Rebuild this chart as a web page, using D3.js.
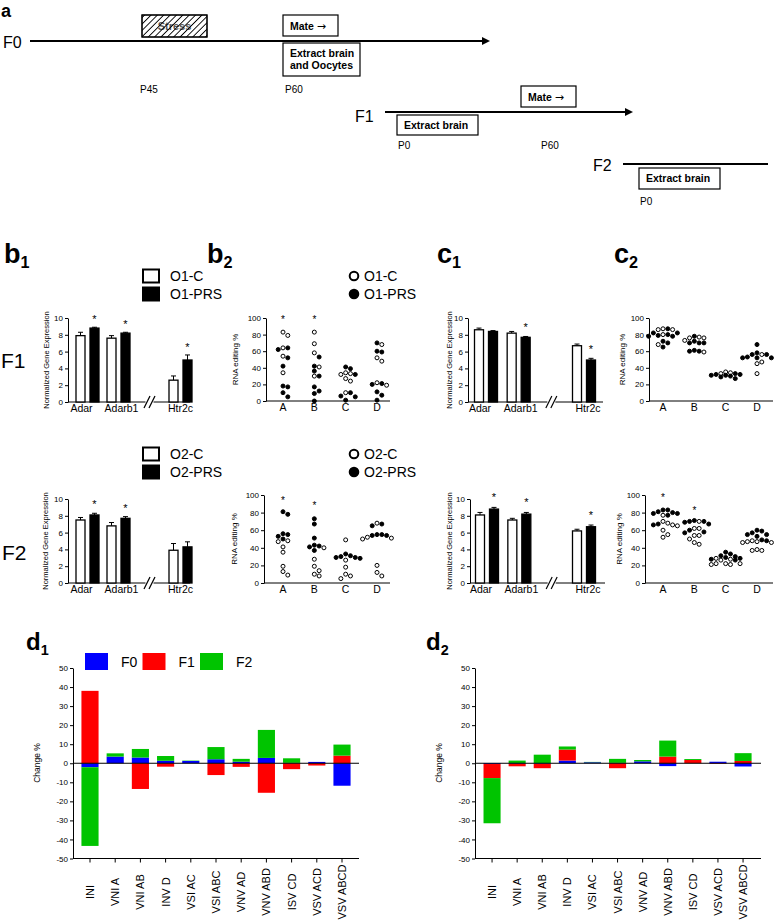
<!DOCTYPE html>
<html>
<head>
<meta charset="utf-8">
<script src="https://cdn.jsdelivr.net/npm/d3@7/dist/d3.min.js"></script>
<style>
  body { margin: 0; background: #fff; }
  svg { display: block; font-family: "Liberation Sans", Arial, sans-serif; }
</style>
</head>
<body>
<svg id="fig" width="778" height="921"></svg>
<script>
// ---------- data ----------
const genes = ["Adar", "Adarb1", "Htr2c"];
const barTicks = [0, 2, 4, 6, 8, 10];

const b1F1Ctrl = [7.9, 7.6, 2.6];
const b1F1CtrlErr = [0.4, 0.3, 0.5];
const b1F1Prs = [8.8, 8.2, 5.0];
const b1F1PrsErr = [0.1, 0.1, 0.6];
const b1F1Sig = [true, true, true];

const b1F2Ctrl = [7.5, 6.8, 3.9];
const b1F2CtrlErr = [0.3, 0.4, 0.8];
const b1F2Prs = [8.1, 7.7, 4.3];
const b1F2PrsErr = [0.2, 0.2, 0.6];
const b1F2Sig = [true, true, false];

const c1F1Ctrl = [8.6, 8.2, 6.7];
const c1F1CtrlErr = [0.2, 0.2, 0.2];
const c1F1Prs = [8.4, 7.7, 5.0];
const c1F1PrsErr = [0.1, 0.1, 0.2];
const c1F1Sig = [false, true, true];

const c1F2Ctrl = [8.1, 7.5, 6.2];
const c1F2CtrlErr = [0.3, 0.2, 0.2];
const c1F2Prs = [8.8, 8.2, 6.7];
const c1F2PrsErr = [0.2, 0.2, 0.2];
const c1F2Sig = [true, true, true];

const sites = ["A", "B", "C", "D"];
const dotTicks = [0, 20, 40, 60, 80, 100];

const b2F1Open = [[83, 79, 64, 54, 34], [83, 69, 58, 41, 30], [34, 33, 32, 27, 24, 10], [68, 52, 48, 22, 19]];
const b2F1Filled = [[64, 62, 52, 42, 18, 17, 10, 5], [53, 42, 36, 30, 17, 12, 9, 0], [41, 39, 32, 10, 6, 5, 1], [70, 60, 59, 21, 20, 11, 7, 1]];
const b2F1Star = [100, 100, null, null];

const b2F2Open = [[48, 47, 41, 35, 19, 13, 9], [40, 27, 19, 14, 10, 8], [49, 26, 18, 10, 8, 5], [68, 52, 50, 51, 20, 12, 8]];
const b2F2Filled = [[81, 78, 56, 53, 55, 50], [73, 67, 51, 43, 42, 41, 37], [33, 31, 30, 29, 29, 28], [67, 65, 55, 54, 54, 55]];
const b2F2Star = [96, 90, null, null];

const c2F1Open = [[87, 86, 86, 80, 68], [77, 76, 76, 73, 59], [35, 34, 33], [56, 47, 45, 33]];
const c2F1Filled = [[87, 82, 82, 80, 79, 78, 78, 72, 70, 65], [78, 72, 70, 70, 70, 61, 60, 60], [33, 32, 32, 31, 31, 30, 29, 27], [68, 58, 56, 56, 53, 52, 52, 52]];
const c2F1Star = [null, null, null, null];

const c2F2Open = [[77, 70, 68, 66, 65, 60, 55, 52], [70, 62, 62, 54, 54, 50, 46, 44], [28, 27, 26, 22, 22, 22, 21, 21], [48, 47, 47, 46, 46, 38, 37, 37]];
const c2F2Filled = [[83, 83, 81, 80, 79, 79, 77, 67, 66], [71, 70, 70, 69, 67, 60, 58, 57], [35, 33, 31, 30, 29, 28, 27, 26], [60, 59, 57, 55, 55, 53, 49, 48]];
const c2F2Star = [99, 84, null, null];

const dCats = ["INI", "VNI A", "VNI AB", "INV D", "VSI AC", "VSI ABC", "VNV AD", "VNV ABD", "ISV CD", "VSV ACD", "VSV ABCD"];
const gens = ["F0", "F1", "F2"];
const genColor = { F0: "#0000ff", F1: "#ff0000", F2: "#00c400" };
const changeTicks = [-50, -40, -30, -20, -10, 0, 10, 20, 30, 40, 50];

const d1F0 = [-2.1, 3.5, 3.0, 1.3, 1.2, 2.1, 0.8, 2.8, 0.2, 0.7, -11.8];
const d1F1 = [38, 0, -13.5, -1.8, 0, -6.2, -1.9, -15.5, -3.1, -1.2, 4.0];
const d1F2 = [-41.3, 1.7, 4.5, 2.5, 0.2, 6.4, 1.5, 14.7, 2.4, 0, 5.8];

const d2F0 = [-0.4, -0.3, -0.3, 1.4, 0.5, 0.2, 1.0, -1.5, 0, 0.8, -1.7];
const d2F1 = [-7.4, -1.3, -2.3, 5.8, 0, -2.6, 0, 3.5, 1.7, -0.3, 1.2];
const d2F2 = [-23.7, 1.4, 4.5, 1.6, 0.2, 2.1, 0.7, 8.4, 0.5, 0, 4.1];

// ---------- drawing ----------
const svg = d3.select("#fig");
const defs = svg.append("defs");

function styleAxis(a) {
  a.attr("font-size", 8).attr("font-family", null);
  a.selectAll("text").attr("fill", "#000");
  a.selectAll("line,path").attr("stroke", "#000");
}

function panelTitle(x, y, letter, sub, size) {
  const t = svg.append("text").attr("x", x).attr("y", y)
    .attr("font-weight", "bold").attr("font-size", size);
  t.append("tspan").text(letter);
  if (sub) t.append("tspan").attr("font-size", size * 0.6).attr("dy", size * 0.2).text(sub);
}

// panel a: timeline
(function drawTimeline() {
  const g = svg.append("g");
  const pat = defs.append("pattern").attr("id", "hatch")
    .attr("patternUnits", "userSpaceOnUse").attr("width", 4.5).attr("height", 4.5)
    .attr("patternTransform", "rotate(45)");
  pat.append("line").attr("x1", 0).attr("y1", 0).attr("x2", 0).attr("y2", 4.5)
    .attr("stroke", "#000").attr("stroke-width", 1.8);

  g.append("text").attr("x", 1).attr("y", 16.5).attr("font-size", 18).attr("font-weight", "bold").text("a");

  const hline = (x1, x2, y, arrow) => {
    g.append("line").attr("x1", x1).attr("x2", arrow ? x2 - 6 : x2).attr("y1", y).attr("y2", y)
      .attr("stroke", "#000").attr("stroke-width", 2);
    if (arrow) g.append("path").attr("d", `M${x2 - 8},${y - 4}L${x2},${y}L${x2 - 8},${y + 4}Z`).attr("fill", "#000");
  };
  const box = (x, y, w, h, lines) => {
    g.append("rect").attr("x", x).attr("y", y).attr("width", w).attr("height", h)
      .attr("fill", "#fff").attr("stroke", "#000").attr("stroke-width", 1.2);
    lines.forEach((s, i) => g.append("text").attr("x", x + 7).attr("y", y + 14 + i * 12)
      .attr("font-size", 10.5).attr("font-weight", "bold").text(s));
  };
  const mateBox = (x, y) => {
    g.append("rect").attr("x", x).attr("y", y).attr("width", 55).attr("height", 21)
      .attr("fill", "#fff").attr("stroke", "#000").attr("stroke-width", 1.2);
    const t = g.append("text").attr("x", x + 7).attr("y", y + 14.5).attr("font-size", 10.5).attr("font-weight", "bold");
    t.append("tspan").text("Mate ");
    t.append("tspan").attr("font-family", "DejaVu Sans").attr("font-weight", "normal").attr("font-size", 11).text("\u2192");
  };
  const small = (x, y, s) => g.append("text").attr("x", x).attr("y", y).attr("font-size", 10).text(s);

  g.append("text").attr("x", 3).attr("y", 48).attr("font-size", 16).text("F0");
  hline(30, 490, 41, true);
  g.append("rect").attr("x", 142).attr("y", 15).attr("width", 65).attr("height", 22)
    .attr("fill", "#fff").attr("stroke", "#000");
  g.append("text").attr("x", 174.5).attr("y", 30).attr("text-anchor", "middle")
    .attr("font-size", 11).attr("font-weight", "bold").attr("fill", "#555").text("Stress");
  g.append("rect").attr("x", 142).attr("y", 15).attr("width", 65).attr("height", 22)
    .attr("fill", "url(#hatch)").attr("stroke", "#000").attr("stroke-width", 1.2);
  mateBox(283, 15);
  box(283, 43, 77, 33, ["Extract brain", "and Oocytes"]);
  small(140, 93, "P45");
  small(285, 93, "P60");

  g.append("text").attr("x", 355).attr("y", 122).attr("font-size", 16).text("F1");
  hline(385, 633, 112, true);
  mateBox(521, 86);
  box(397, 115, 81, 20, ["Extract brain"]);
  small(398, 149, "P0");
  small(541, 149, "P60");

  g.append("text").attr("x", 593).attr("y", 171).attr("font-size", 16).text("F2");
  hline(623, 768, 164, false);
  box(639, 168, 81, 21, ["Extract brain"]);
  small(640, 205, "P0");
})();

function barPanel(o) {
  const g = svg.append("g");
  const y = d3.scaleLinear().domain([0, 10]).range([o.yBot, o.yTop]);
  const x = d3.scalePoint().domain([genes[0], genes[1], "//", genes[2]]).range([o.gx0, o.gx1]);
  const bw = 9, gap = 2.5;
  g.append("g").attr("transform", `translate(${o.ax},0)`)
    .call(d3.axisLeft(y).tickValues(barTicks).tickSize(3).tickPadding(2).tickSizeOuter(0))
    .call(styleAxis);
  const y0 = y(0), bx = x("//");
  g.append("line").attr("x1", o.ax).attr("x2", bx - 4).attr("y1", y0).attr("y2", y0).attr("stroke", "#000");
  g.append("line").attr("x1", bx + 4).attr("x2", o.xEnd).attr("y1", y0).attr("y2", y0).attr("stroke", "#000");
  g.selectAll(".brk").data([-2.5, 2.5]).join("line").attr("class", "brk")
    .attr("x1", d => bx + d - 3).attr("y1", y0 + 6).attr("x2", d => bx + d + 3).attr("y2", y0 - 6)
    .attr("stroke", "#000").attr("stroke-width", 1.2);

  const rows = genes.flatMap((name, i) => [
    { name, ctrl: true, v: o.ctrl[i], e: o.ctrlErr[i], sig: false },
    { name, ctrl: false, v: o.prs[i], e: o.prsErr[i], sig: o.sig[i] }
  ]);
  const left = d => d.ctrl ? x(d.name) - gap - bw : x(d.name) + gap;
  g.selectAll(".err").data(rows).join("path").attr("class", "err")
    .attr("d", d => {
      const cx = left(d) + bw / 2, t = y(d.v + d.e);
      return `M${cx},${y(d.v)}V${t}M${cx - 2.5},${t}H${cx + 2.5}`;
    })
    .attr("stroke", "#000").attr("fill", "none");
  g.selectAll(".bar").data(rows).join("rect").attr("class", "bar")
    .attr("x", left).attr("width", bw)
    .attr("y", d => y(d.v)).attr("height", d => y0 - y(d.v))
    .attr("fill", d => d.ctrl ? "#fff" : "#000").attr("stroke", "#000").attr("stroke-width", 1.3);
  g.selectAll(".star").data(rows.filter(d => d.sig)).join("text").attr("class", "star")
    .attr("x", d => left(d) + bw / 2).attr("y", d => y(d.v + d.e) - o.starGap)
    .attr("text-anchor", "middle").attr("font-size", 11).text("*");
  g.selectAll(".gl").data(genes).join("text").attr("class", "gl")
    .attr("x", (d, i) => x(d) + o.labelDx[i]).attr("y", o.labelY).attr("text-anchor", "middle")
    .attr("font-size", 10.5).text(d => d);
  g.append("text").attr("transform", `translate(${o.ylabX},${(o.yTop + o.yBot) / 2}) rotate(-90)`)
    .attr("text-anchor", "middle").attr("font-size", 7.5).text("Normalized Gene Expression");
}

function swarm(pts, y, step, maxK) {
  const placed = [];
  pts.sort((a, b) => b.v - a.v).forEach(p => {
    p.py = y(p.v);
    let best = 0, bestD = -1;
    outer:
    for (let k = 0; k <= maxK; k++) {
      for (const sgn of (k ? [1, -1] : [1])) {
        const dx = sgn * k * step;
        const dmin = placed.length ? d3.min(placed, q => Math.hypot(q.dx - dx, q.py - p.py)) : Infinity;
        if (dmin >= step) { best = dx; break outer; }
        if (dmin > bestD) { bestD = dmin; best = dx; }
      }
    }
    p.dx = best;
    placed.push(p);
  });
  return pts;
}

function dotPanel(o) {
  const g = svg.append("g");
  const y = d3.scaleLinear().domain([0, 100]).range([o.yBot, o.yTop]);
  const x = d3.scalePoint().domain(sites).range([o.cx0, o.cx1]);
  g.append("g").attr("transform", `translate(${o.ax},0)`)
    .call(d3.axisLeft(y).tickValues(dotTicks).tickSize(3).tickPadding(2).tickSizeOuter(0))
    .call(styleAxis);
  g.append("line").attr("x1", o.ax).attr("x2", o.xEnd).attr("y1", y(0)).attr("y2", y(0)).attr("stroke", "#000");
  sites.forEach((s, i) => {
    const pts = swarm(
      o.open[i].map(v => ({ v, filled: false })).concat(o.filled[i].map(v => ({ v, filled: true }))),
      y, 4.8, 3);
    g.append("g").selectAll("circle").data(pts).join("circle")
      .attr("cx", d => x(s) + d.dx).attr("cy", d => d.py).attr("r", 2)
      .attr("fill", d => d.filled ? "#000" : "#fff").attr("stroke", "#000").attr("stroke-width", 1);
    if (o.star[i] != null) {
      g.append("text").attr("x", x(s)).attr("y", y(o.star[i]) + 5)
        .attr("text-anchor", "middle").attr("font-size", 10).text("*");
    }
  });
  g.selectAll(".sl").data(sites).join("text").attr("class", "sl")
    .attr("x", d => x(d)).attr("y", o.labelY).attr("text-anchor", "middle")
    .attr("font-size", 10.5).text(d => d);
  g.append("text").attr("transform", `translate(${o.ylabX},${(o.yTop + o.yBot) / 2}) rotate(-90)`)
    .attr("text-anchor", "middle").attr("font-size", 8).text("RNA editing %");
}

function stackPanel(o) {
  const g = svg.append("g");
  const y = d3.scaleLinear().domain([-50, 50]).range([858.5, 668]);
  const x = d3.scaleBand().domain(dCats).range([o.b0, o.b1]).paddingInner(0.32).paddingOuter(0.16);
  const rows = dCats.map((cat, i) => ({ cat, F0: o.f0[i], F1: o.f1[i], F2: o.f2[i] }));
  const series = d3.stack().keys(gens).offset(d3.stackOffsetDiverging)(rows);
  g.selectAll(".ser").data(series).join("g").attr("class", "ser")
    .attr("fill", d => genColor[d.key])
    .selectAll("rect").data(d => d).join("rect")
    .attr("x", d => x(d.data.cat)).attr("width", x.bandwidth())
    .attr("y", d => y(Math.max(d[0], d[1]))).attr("height", d => Math.abs(y(d[0]) - y(d[1])));
  g.append("g").attr("transform", `translate(${o.ax},0)`)
    .call(d3.axisLeft(y).tickValues(changeTicks).tickFormat(d => String(d)).tickSize(3).tickPadding(2).tickSizeOuter(0))
    .call(styleAxis);
  g.append("line").attr("x1", o.ax).attr("x2", o.xEnd).attr("y1", y(0)).attr("y2", y(0)).attr("stroke", "#000");
  const xb = g.append("g").attr("transform", `translate(0,${y(-50)})`)
    .call(d3.axisBottom(x).tickSize(4).tickFormat(""))
    .call(styleAxis);
  xb.select(".domain").remove();
  g.append("line").attr("x1", o.ax).attr("x2", o.xEnd).attr("y1", y(-50)).attr("y2", y(-50)).attr("stroke", "#000");
  g.selectAll(".cl").data(dCats).join("text").attr("class", "cl")
    .attr("transform", d => `translate(${x(d) + x.bandwidth() / 2},892) rotate(-90)`)
    .attr("text-anchor", "middle").attr("dominant-baseline", "central")
    .attr("font-size", 11).text(d => d);
  g.append("text").attr("transform", `translate(${o.ylabX},763) rotate(-90)`)
    .attr("text-anchor", "middle").attr("font-size", 8.5).text("Change %");
}

// titles and row labels
panelTitle(4, 263, "b", "1", 27);
panelTitle(207, 263, "b", "2", 27);
panelTitle(437, 263, "c", "1", 27);
panelTitle(614, 263, "c", "2", 27);
panelTitle(26, 650, "d", "1", 24);
panelTitle(426, 650, "d", "2", 24);
svg.append("text").attr("x", 1).attr("y", 368).attr("font-size", 21).text("F1");
svg.append("text").attr("x", 2).attr("y", 560).attr("font-size", 21).text("F2");

// legends (bar and dot)
function barLegend(yc, names) {
  names.forEach((n, i) => {
    const cy = yc + i * 18;
    svg.append("rect").attr("x", 143).attr("y", cy - 6.5).attr("width", 16).attr("height", 13)
      .attr("fill", i ? "#000" : "#fff").attr("stroke", "#000").attr("stroke-width", 2);
    svg.append("text").attr("x", 170).attr("y", cy).attr("dominant-baseline", "central")
      .attr("font-size", 14).text(n);
  });
}
function dotLegend(yc, names) {
  names.forEach((n, i) => {
    const cy = yc + i * 18;
    svg.append("circle").attr("cx", 354).attr("cy", cy).attr("r", 4.3)
      .attr("fill", i ? "#000" : "#fff").attr("stroke", "#000").attr("stroke-width", 2);
    svg.append("text").attr("x", 364).attr("y", cy).attr("dominant-baseline", "central")
      .attr("font-size", 14).text(n);
  });
}
barLegend(276, ["O1-C", "O1-PRS"]);
dotLegend(276, ["O1-C", "O1-PRS"]);
barLegend(454, ["O2-C", "O2-PRS"]);
dotLegend(454, ["O2-C", "O2-PRS"]);

// b1 / c1 bar charts
barPanel({ ax: 68, xEnd: 190, gx0: 87.5, gx1: 180.5, yTop: 318, yBot: 402, labelY: 412, ylabX: 49, starGap: 4,
  labelDx: [-6, 3, 0],
  ctrl: b1F1Ctrl, ctrlErr: b1F1CtrlErr, prs: b1F1Prs, prsErr: b1F1PrsErr, sig: b1F1Sig });
barPanel({ ax: 68, xEnd: 190, gx0: 87.5, gx1: 180.5, yTop: 499, yBot: 583, labelY: 593, ylabX: 48, starGap: 5,
  labelDx: [-6, 3, 0],
  ctrl: b1F2Ctrl, ctrlErr: b1F2CtrlErr, prs: b1F2Prs, prsErr: b1F2PrsErr, sig: b1F2Sig });
barPanel({ ax: 468, xEnd: 603, gx0: 486, gx1: 584, yTop: 318, yBot: 402, labelY: 412, ylabX: 452, starGap: 5,
  labelDx: [-6, 2, 4],
  ctrl: c1F1Ctrl, ctrlErr: c1F1CtrlErr, prs: c1F1Prs, prsErr: c1F1PrsErr, sig: c1F1Sig });
barPanel({ ax: 470, xEnd: 605, gx0: 487, gx1: 584, yTop: 499, yBot: 583, labelY: 593, ylabX: 452, starGap: 6,
  labelDx: [-6, 2, 4],
  ctrl: c1F2Ctrl, ctrlErr: c1F2CtrlErr, prs: c1F2Prs, prsErr: c1F2PrsErr, sig: c1F2Sig });

// b2 / c2 dot plots
dotPanel({ ax: 266, xEnd: 390, cx0: 283, cx1: 377, yTop: 318, yBot: 401, labelY: 411, ylabX: 238,
  open: b2F1Open, filled: b2F1Filled, star: b2F1Star });
dotPanel({ ax: 264, xEnd: 390, cx0: 283, cx1: 377, yTop: 495, yBot: 583, labelY: 593, ylabX: 237,
  open: b2F2Open, filled: b2F2Filled, star: b2F2Star });
dotPanel({ ax: 649, xEnd: 773, cx0: 663, cx1: 757, yTop: 318, yBot: 401, labelY: 411, ylabX: 625,
  open: c2F1Open, filled: c2F1Filled, star: c2F1Star });
dotPanel({ ax: 645, xEnd: 773, cx0: 663, cx1: 757, yTop: 495, yBot: 583, labelY: 593, ylabX: 622,
  open: c2F2Open, filled: c2F2Filled, star: c2F2Star });

// d1 legend
gens.forEach((k, i) => {
  const lx = 85 + i * 57.5;
  svg.append("rect").attr("x", lx).attr("y", 653).attr("width", 23).attr("height", 17).attr("fill", genColor[k]);
  svg.append("text").attr("x", lx + 36).attr("y", 662).attr("dominant-baseline", "central")
    .attr("font-size", 14).text(k);
});

// d1 / d2 stacked change charts
stackPanel({ ax: 73, xEnd: 359, b0: 77.4, b1: 354.6, ylabX: 40, f0: d1F0, f1: d1F1, f2: d1F2 });
stackPanel({ ax: 475, xEnd: 761, b0: 479.5, b1: 755.6, ylabX: 442, f0: d2F0, f1: d2F1, f2: d2F2 });
</script>
</body>
</html>
